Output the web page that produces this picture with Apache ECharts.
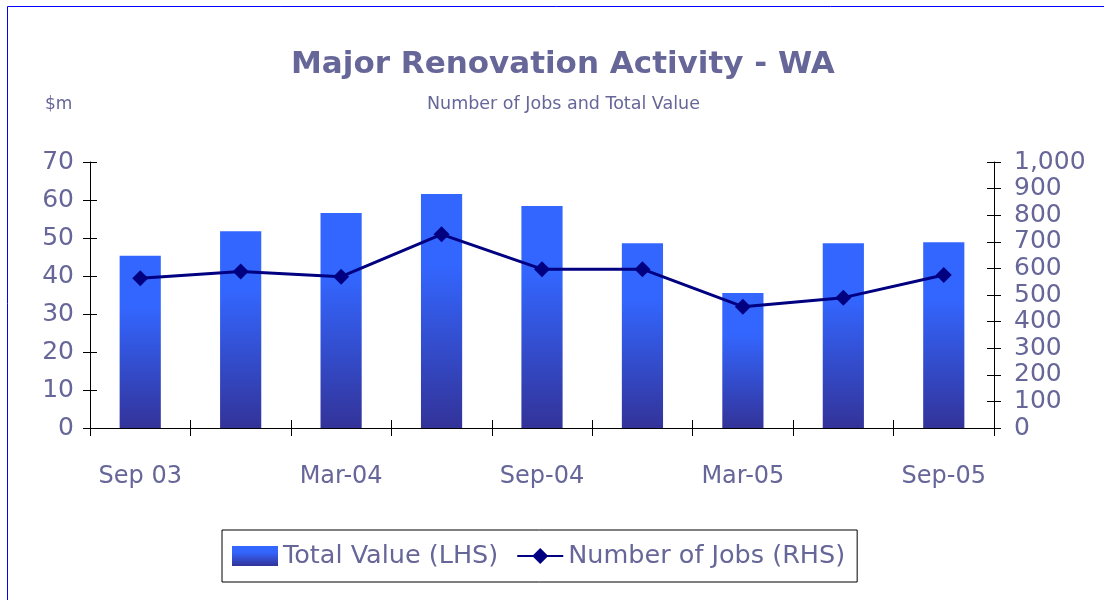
<!DOCTYPE html>
<html>
<head>
<meta charset="utf-8">
<script src="https://cdn.jsdelivr.net/npm/echarts@6/dist/echarts.min.js"></script>
<style>
html,body{margin:0;padding:0;background:#fff;}
#c{width:1104px;height:600px;}
</style>
</head>
<body>
<div id="c"></div>
<script>
var categories = ["Sep 03","Dec-03","Mar-04","Jun-04","Sep-04","Dec-04","Mar-05","Jun-05","Sep-05"];
var totalValue = [45.3, 51.8, 56.6, 61.6, 58.4, 48.6, 35.5, 48.6, 48.9];
var numberOfJobs = [563, 588, 569, 728, 597, 597, 456, 490, 575];
var leftTicks = {min: 0, max: 70, interval: 10};
var rightTicks = {min: 0, max: 1000, interval: 100};

var txt = '#666699';
var font = 'DejaVu Sans';
var chart = echarts.init(document.getElementById('c'), null, {renderer: 'canvas'});

function yAx(pos, t, inside, labels) {
  return {
    type: 'value', position: pos, min: t.min, max: t.max, interval: t.interval,
    axisLine: {show: !inside, lineStyle: {color: '#000', width: 1}},
    axisTick: {show: true, inside: inside, length: 7, lineStyle: {color: '#000'}},
    axisLabel: {show: labels, color: txt, fontSize: 25, fontFamily: font, margin: pos === 'left' ? 16 : 20,
      formatter: function (v) { return v.toLocaleString('en-US'); }},
    splitLine: {show: false}
  };
}
function xAx(inside, labels) {
  return {
    type: 'category', data: categories, position: 'bottom', boundaryGap: true,
    axisLine: {show: !inside, lineStyle: {color: '#000', width: 1}},
    axisTick: {show: true, inside: inside, length: 8, interval: 0, lineStyle: {color: '#000'}},
    axisLabel: {show: labels, interval: 1, color: txt, fontSize: 24, fontFamily: font, margin: 37},
    splitLine: {show: false}
  };
}

chart.setOption({
  animation: false,
  backgroundColor: '#fff',
  textStyle: {fontFamily: font},
  graphic: [{
    type: 'rect', silent: true, z: 100,
    shape: {x: 7.5, y: 6.5, width: 1200, height: 800},
    style: {fill: 'none', stroke: '#0000FF', lineWidth: 1}
  }, {
    type: 'text', left: 45, top: 96,
    style: {text: '$m', fill: txt, font: '17px "DejaVu Sans"'}
  }],
  title: [{
    text: 'Major Renovation Activity - WA',
    left: 286, top: 44,
    textStyle: {color: txt, fontSize: 31, fontWeight: 'bold', fontFamily: font}
  }, {
    text: 'Number of Jobs and Total Value',
    left: 422, top: 90,
    textStyle: {color: txt, fontSize: 17.5, fontWeight: 'normal', fontFamily: font}
  }],
  legend: {
    left: 222, top: 530,
    padding: [13, 12, 13, 10],
    borderColor: '#000', borderWidth: 1,
    itemWidth: 46, itemHeight: 20, itemGap: 18,
    textStyle: {color: txt, fontSize: 25.5, fontFamily: font},
    data: [{name: 'Total Value (LHS)', icon: 'rect'}, {name: 'Number of Jobs (RHS)'}]
  },
  grid: {left: 90, right: 110, top: 162, bottom: 172, containLabel: false},
  xAxis: [xAx(false, true), xAx(true, false)],
  yAxis: [yAx('left', leftTicks, false, true), yAx('right', rightTicks, false, true),
          yAx('left', leftTicks, true, false), yAx('right', rightTicks, true, false)],
  series: [{
    name: 'Total Value (LHS)', type: 'bar', xAxisIndex: 0, yAxisIndex: 0,
    data: totalValue, barWidth: '41%',
    itemStyle: {color: new echarts.graphic.LinearGradient(0, 0, 0, 1, [
      {offset: 0, color: '#3366FF'}, {offset: 0.3, color: '#3366FF'}, {offset: 1, color: '#333399'}])}
  }, {
    name: 'Number of Jobs (RHS)', type: 'line', xAxisIndex: 0, yAxisIndex: 1,
    data: numberOfJobs, symbol: 'diamond', symbolSize: 16,
    lineStyle: {color: '#000080', width: 3},
    itemStyle: {color: '#000080'}
  }]
});
</script>
</body>
</html>
